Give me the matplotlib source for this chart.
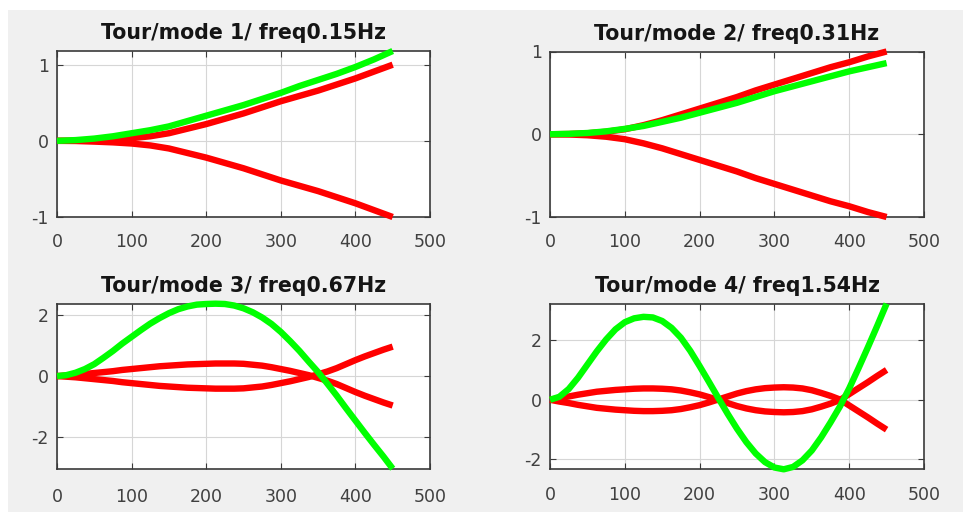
import matplotlib
matplotlib.use("Agg")
import matplotlib.pyplot as plt
from matplotlib.patches import Rectangle

plt.rcParams["axes.unicode_minus"] = False

# ---------------- data ----------------
x_coarse = [0, 25, 50, 75, 100, 125, 150, 175, 200, 225, 250, 275, 300,
            325, 350, 375, 400, 425, 450]

mode1_red = [0.0, 0.002, 0.01, 0.02, 0.035, 0.06, 0.10, 0.16, 0.22, 0.29,
             0.36, 0.44, 0.52, 0.59, 0.66, 0.74, 0.82, 0.91, 1.0]
mode1_green = [0.0, 0.01, 0.03, 0.06, 0.10, 0.14, 0.19, 0.26, 0.33, 0.40,
               0.47, 0.55, 0.63, 0.72, 0.80, 0.88, 0.97, 1.07, 1.18]

mode2_red = [0.0, 0.003, 0.012, 0.03, 0.06, 0.11, 0.17, 0.24, 0.31, 0.38,
             0.45, 0.53, 0.60, 0.67, 0.74, 0.81, 0.87, 0.94, 1.0]
mode2_green = [0.0, 0.005, 0.015, 0.035, 0.065, 0.10, 0.15, 0.20, 0.26,
               0.32, 0.38, 0.45, 0.52, 0.58, 0.64, 0.70, 0.76, 0.81, 0.86]

x_fine = [0, 12.5, 25, 37.5, 50, 62.5, 75, 87.5, 100, 112.5, 125, 137.5,
          150, 162.5, 175, 187.5, 200, 212.5, 225, 237.5, 250, 262.5, 275,
          287.5, 300, 312.5, 325, 337.5, 350, 362.5, 375, 387.5, 400, 412.5,
          425, 437.5, 450]

mode3_red = [0.0, -0.02, -0.04, -0.07, -0.10, -0.13, -0.16, -0.20, -0.23,
             -0.26, -0.29, -0.32, -0.34, -0.36, -0.38, -0.39, -0.40, -0.41,
             -0.41, -0.41, -0.40, -0.37, -0.34, -0.29, -0.23, -0.17, -0.10,
             -0.03, 0.06, 0.15, 0.26, 0.39, 0.52, 0.64, 0.75, 0.86, 0.96]
mode3_green = [0.0, 0.03, 0.11, 0.23, 0.39, 0.60, 0.82, 1.06, 1.28, 1.50,
               1.71, 1.89, 2.05, 2.18, 2.27, 2.33, 2.35, 2.36, 2.35, 2.30,
               2.21, 2.08, 1.91, 1.70, 1.44, 1.14, 0.82, 0.47, 0.13, -0.25,
               -0.64, -1.05, -1.45, -1.85, -2.24, -2.62, -3.02]

mode4_red = [0.0, 0.06, 0.11, 0.17, 0.22, 0.27, 0.30, 0.33, 0.35, 0.37,
             0.38, 0.38, 0.37, 0.35, 0.31, 0.25, 0.18, 0.09, -0.01, -0.11,
             -0.21, -0.29, -0.35, -0.39, -0.41, -0.42, -0.41, -0.38, -0.32,
             -0.23, -0.13, -0.01, 0.19, 0.39, 0.59, 0.80, 1.00]
mode4_green = [0.0, 0.10, 0.36, 0.74, 1.18, 1.62, 2.02, 2.36, 2.60, 2.73,
               2.78, 2.76, 2.64, 2.41, 2.08, 1.64, 1.13, 0.60, 0.06, -0.47,
               -0.97, -1.42, -1.80, -2.09, -2.27, -2.33, -2.25, -2.03, -1.70,
               -1.26, -0.76, -0.23, 0.38, 1.06, 1.76, 2.48, 3.22]

titles = ["Tour/mode 1/ freq0.15Hz", "Tour/mode 2/ freq0.31Hz",
          "Tour/mode 3/ freq0.67Hz", "Tour/mode 4/ freq1.54Hz"]
x_ticks = [0, 100, 200, 300, 400, 500]
y_ticks = [[-1, 0, 1], [-1, 0, 1], [-2, 0, 2], [-2, 0, 2]]

# ---------------- figure ----------------
W, H = 963, 512
fig = plt.figure(figsize=(W / 100, H / 100), dpi=100, facecolor="#f0f0f0")
# white margins (top and left) as in the screenshot
fig.patches.append(Rectangle((0, 1 - 10 / H), 1, 10 / H, transform=fig.transFigure,
                             facecolor="white", edgecolor="none", zorder=-10))
fig.patches.append(Rectangle((0, 0), 8 / W, 1, transform=fig.transFigure,
                             facecolor="white", edgecolor="none", zorder=-10))

def px_rect(l, t, r, b):
    return [l / W, 1 - b / H, (r - l) / W, (b - t) / H]

rects = [px_rect(57, 51, 430, 217), px_rect(550, 51.5, 924, 217),
         px_rect(57, 303.7, 430, 468.7), px_rect(550, 303.7, 924, 469.3)]
xpads = [11.5, 11.5, 14, 12]

series = [(x_coarse, mode1_red, mode1_green),
          (x_coarse, mode2_red, mode2_green),
          (x_fine, mode3_red, mode3_green),
          (x_fine, mode4_red, mode4_green)]

RED = "#ff0000"
GREEN = "#00ff00"
LW = 4.6

for i, (xs, red, green) in enumerate(series):
    ax = fig.add_axes(rects[i])
    ax.set_facecolor("white")
    neg_red = [-v for v in red]
    ax.plot(xs, red, color=RED, lw=LW, clip_on=False, solid_capstyle="butt",
            solid_joinstyle="round", zorder=3)
    ax.plot(xs, neg_red, color=RED, lw=LW, clip_on=False, solid_capstyle="butt",
            solid_joinstyle="round", zorder=3)
    ax.plot(xs, green, color=GREEN, lw=LW, clip_on=False, solid_capstyle="butt",
            solid_joinstyle="round", zorder=4)
    allv = red + neg_red + green
    ax.set_xlim(0, 500)
    ax.set_ylim(min(allv), max(allv))
    ax.set_xticks(x_ticks)
    ax.set_yticks(y_ticks[i])
    ax.grid(True, color="#d6d6d6", lw=0.8)
    ax.set_axisbelow(True)
    for s in ax.spines.values():
        s.set_color("#3a3a3a")
        s.set_linewidth(1.2)
        s.set_zorder(2)
    ax.tick_params(direction="in", length=4, width=0.8, color="#3a3a3a",
                   top=True, right=True, labelsize=12.5, labelcolor="#404040")
    ax.tick_params(axis="x", pad=xpads[i])
    ax.tick_params(axis="y", pad=6)
    ax.set_title(titles[i], fontsize=14.8, fontweight="bold", color="#151515", pad=8.5)

fig.savefig("out.png", dpi=100, facecolor=fig.get_facecolor())
